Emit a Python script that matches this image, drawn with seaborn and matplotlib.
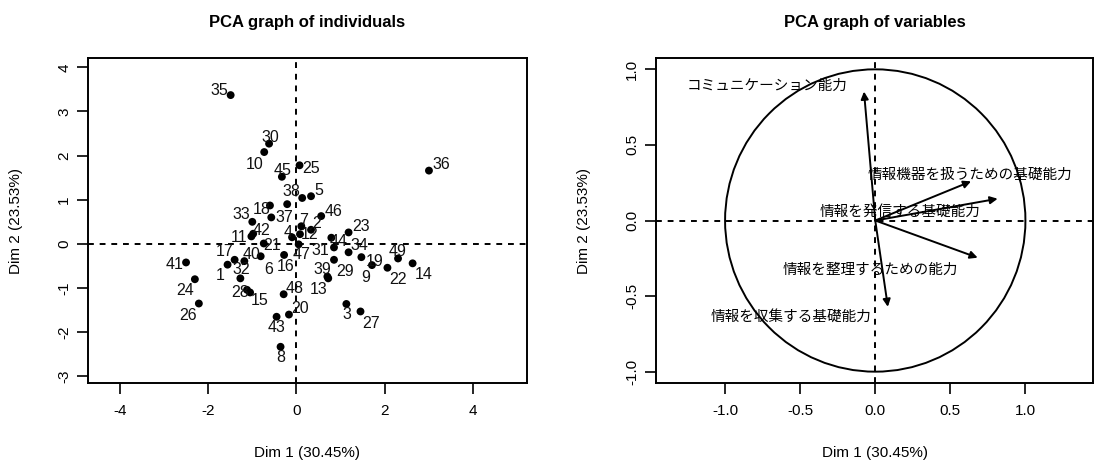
import numpy as np
import pandas as pd
import matplotlib
matplotlib.use("Agg")
import matplotlib.pyplot as plt
from matplotlib.patches import Circle
import seaborn as sns

# individuals (Dim 1, Dim 2)
ind_labels = ["1", "2", "3", "4", "5", "6", "7", "8", "9", "10",
              "11", "12", "13", "14", "15", "16", "17", "18", "19", "20",
              "21", "22", "23", "24", "25", "26", "27", "28", "29", "30",
              "31", "32", "33", "34", "35", "36", "37", "38", "39", "40",
              "41", "42", "43", "44", "45", "46", "47", "48", "49", ""]
ind_dim1 = [-1.56, 0.33, 1.13, -0.10, 0.33, -0.81, 0.11, -0.36, 1.47, -0.73,
            -1.02, 0.08, 0.72, 2.63, -1.05, -0.28, -1.40, -0.60, 1.71, -0.17,
            -0.74, 2.06, 1.18, -2.30, 0.07, -2.21, 1.45, -1.12, 0.85, -0.62,
            0.85, -1.27, -1.00, 1.18, -1.49, 3.00, -0.57, 0.13, 0.70, -1.18,
            -2.50, -0.98, -0.45, 0.79, -0.33, 0.56, 0.05, -0.29, 2.30, -0.21]
ind_dim2 = [-0.47, 0.32, -1.36, 0.15, 1.08, -0.28, 0.40, -2.33, -0.30, 2.08,
            0.17, 0.22, -0.78, -0.44, -1.10, -0.25, -0.36, 0.87, -0.48, -1.60,
            0.01, -0.54, 0.26, -0.80, 1.78, -1.35, -1.53, -1.04, -0.36, 2.27,
            -0.08, -0.78, 0.50, -0.19, 3.37, 1.66, 0.60, 1.04, -0.74, -0.39,
            -0.42, 0.23, -1.65, 0.14, 1.52, 0.63, -0.01, -1.14, -0.33, 0.90]

# variables (correlation with Dim 1, Dim 2)
var_names = ["コミュニケーション能力", "情報機器を扱うための基礎能力", "情報を発信する基礎能力",
             "情報を整理するための能力", "情報を収集する基礎能力"]
var_dim1 = [-0.075, 0.638, 0.815, 0.682, 0.084]
var_dim2 = [0.853, 0.259, 0.144, -0.246, -0.571]

xlab = "Dim 1 (30.45%)"
ylab = "Dim 2 (23.53%)"

# label offsets in pixels (layout only)
ind_offsets = {
    "1": (-7, -11), "2": (6, 6), "3": (1, -11), "4": (-4, 5), "5": (8, 6),
    "6": (8, -13), "7": (2, 6), "8": (0, -11), "9": (4, -20), "10": (-10, -12),
    "11": (-12, -1), "12": (10, 0), "13": (-10, -11), "14": (11, -11), "15": (10, -8),
    "16": (2, -12), "17": (-10, 8), "18": (-8, -4), "19": (3, 4), "20": (11, 6),
    "21": (8, -2), "22": (11, -12), "23": (12, 6), "24": (-10, -11), "25": (12, -3),
    "26": (-11, -12), "27": (11, -12), "28": (-7, -3), "29": (11, -12), "30": (1, 6),
    "31": (-14, -3), "32": (1, 9), "33": (-11, 7), "34": (11, 7), "35": (-11, 5),
    "36": (12, 6), "37": (13, 0), "38": (-11, 6), "39": (-5, 7), "40": (7, 7),
    "41": (-11, -2), "42": (8, 3), "43": (0, -11), "44": (7, -4), "45": (1, 6),
    "46": (12, 5), "47": (3, -10), "48": (11, 6), "49": (0, 7),
}
var_offsets = [(-97, 6), (-1, 7), (-98, -13), (-107, -12), (-97, -10)]

sns.set_style("white")
plt.rcParams['font.family'] = ['Liberation Sans', 'Noto Sans CJK JP', 'DejaVu Sans']
plt.rcParams['axes.unicode_minus'] = False
plt.rcParams['text.color'] = 'black'
plt.rcParams['axes.labelcolor'] = 'black'
plt.rcParams['xtick.color'] = 'black'
plt.rcParams['ytick.color'] = 'black'

fig = plt.figure(figsize=(10.96, 4.68), dpi=100)
ax1 = fig.add_axes([88 / 1096, 85 / 468, 439 / 1096, 325 / 468])
ax2 = fig.add_axes([656 / 1096, 85 / 468, 437 / 1096, 325 / 468])

ind = pd.DataFrame({"lab": ind_labels, "d1": ind_dim1, "d2": ind_dim2})
sns.scatterplot(data=ind, x="d1", y="d2", ax=ax1, color="black", s=32,
                edgecolor="none", legend=False)
for lab, x, y in zip(ind_labels, ind_dim1, ind_dim2):
    if lab == "":
        continue
    ax1.annotate(lab, (x, y), xytext=ind_offsets.get(lab, (0, 8)),
                 textcoords="offset pixels", ha="center", va="center",
                 fontsize=11.5, color="#111111")

ax1.set_xlim(-4.72, 5.22)
ax1.set_ylim(-3.15, 4.21)
ax1.set_xticks([-4, -2, 0, 2, 4])
ax1.set_yticks([-3, -2, -1, 0, 1, 2, 3, 4])
ax1.set_title("PCA graph of individuals", fontsize=12, fontweight="bold", pad=22)

# variables
for x, y in zip(var_dim1, var_dim2):
    ax2.annotate("", xy=(x, y), xytext=(0, 0),
                 arrowprops=dict(arrowstyle="-|>", color="black", lw=1.4,
                                 mutation_scale=11, shrinkA=0, shrinkB=0))
for name, x, y, off in zip(var_names, var_dim1, var_dim2, var_offsets):
    ax2.annotate(name, (x, y), xytext=off, textcoords="offset pixels",
                 ha="center", va="center", fontsize=10.5,
                 family=['Noto Sans CJK JP', 'DejaVu Sans'])
ax2.add_patch(Circle((0, 0), 1, fill=False, color="black", lw=1.4))
ax2.set_xlim(-1.46, 1.45)
ax2.set_ylim(-1.075, 1.075)
ax2.set_xticks([-1.0, -0.5, 0.0, 0.5, 1.0])
ax2.set_yticks([-1.0, -0.5, 0.0, 0.5, 1.0])
ax2.set_xticklabels(["-1.0", "-0.5", "0.0", "0.5", "1.0"])
ax2.set_yticklabels(["-1.0", "-0.5", "0.0", "0.5", "1.0"])
ax2.set_title("PCA graph of variables", fontsize=12, fontweight="bold", pad=22)

for ax in (ax1, ax2):
    ax.axhline(0, color="black", lw=1.4, ls=(0, (3, 3)), zorder=0)
    ax.axvline(0, color="black", lw=1.4, ls=(0, (3, 3)), zorder=0)
    for sp in ax.spines.values():
        sp.set_color("black")
        sp.set_linewidth(1.4)
    ax.tick_params(direction="out", length=8, width=1.2, color="black",
                   labelsize=11, left=True, bottom=True)
    ax.tick_params(axis="x", pad=7)
    ax.tick_params(axis="y", pad=4)
    plt.setp(ax.get_yticklabels(), rotation=90, va="center")
    ax.set_xlabel(xlab, fontsize=11, labelpad=20)
    ax.set_ylabel(ylab, fontsize=11, labelpad=25)

fig.savefig("out.png", dpi=100, facecolor="white")
